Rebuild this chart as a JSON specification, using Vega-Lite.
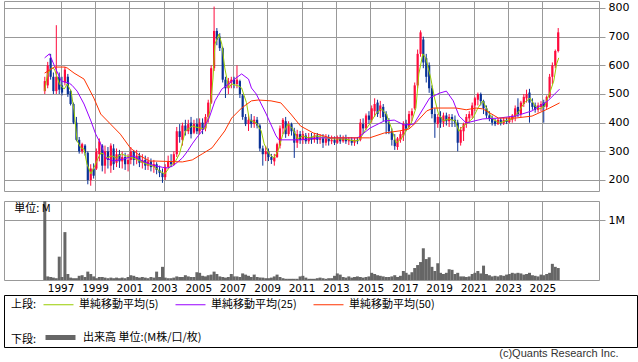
{
"$schema":"https://vega.github.io/schema/vega-lite/v6.json",
"padding":{"left":3,"top":0,"right":0,"bottom":0},
"background":"white",
"title":{"text":"(c)Quants Research Inc.","orient":"bottom","anchor":"end","font":"Liberation Sans","fontSize":11,"fontWeight":"normal","color":"#333333","offset":0,"dx":-19},
"datasets":{
"candles":[
{"year":1996.08,"open":510,"high":560,"low":500,"close":545,"volume":1.5},
{"year":1996.25,"open":530,"high":612,"low":520,"close":600,"volume":0.06},
{"year":1996.42,"open":625,"high":640,"low":550,"close":560,"volume":0.05},
{"year":1996.58,"open":560,"high":575,"low":500,"close":510,"volume":0.04},
{"year":1996.75,"open":510,"high":740,"low":500,"close":560,"volume":0.03},
{"year":1996.92,"open":560,"high":575,"low":500,"close":515,"volume":0.39},
{"year":1997.08,"open":530,"high":560,"low":495,"close":505,"volume":0.05},
{"year":1997.25,"open":540,"high":595,"low":530,"close":585,"volume":0.8},
{"year":1997.42,"open":560,"high":570,"low":490,"close":500,"volume":0.1},
{"year":1997.58,"open":510,"high":515,"low":460,"close":465,"volume":0.04},
{"year":1997.75,"open":465,"high":470,"low":395,"close":400,"volume":0.03},
{"year":1997.92,"open":400,"high":420,"low":335,"close":340,"volume":0.03},
{"year":1998.08,"open":340,"high":350,"low":292,"close":300,"volume":0.07},
{"year":1998.25,"open":300,"high":330,"low":292,"close":325,"volume":0.08},
{"year":1998.42,"open":320,"high":325,"low":285,"close":295,"volume":0.05},
{"year":1998.58,"open":295,"high":300,"low":185,"close":200,"volume":0.14},
{"year":1998.75,"open":200,"high":255,"low":180,"close":240,"volume":0.1},
{"year":1998.92,"open":240,"high":258,"low":205,"close":215,"volume":0.06},
{"year":1999.08,"open":240,"high":310,"low":235,"close":300,"volume":0.03},
{"year":1999.25,"open":290,"high":345,"low":265,"close":335,"volume":0.05},
{"year":1999.42,"open":320,"high":325,"low":230,"close":250,"volume":0.05},
{"year":1999.58,"open":250,"high":320,"low":222,"close":300,"volume":0.04},
{"year":1999.75,"open":300,"high":315,"low":240,"close":270,"volume":0.03},
{"year":1999.92,"open":250,"high":328,"low":225,"close":320,"volume":0.04},
{"year":2000.08,"open":310,"high":325,"low":235,"close":255,"volume":0.03},
{"year":2000.25,"open":260,"high":310,"low":245,"close":290,"volume":0.04},
{"year":2000.42,"open":290,"high":305,"low":242,"close":265,"volume":0.03},
{"year":2000.58,"open":265,"high":300,"low":240,"close":280,"volume":0.04},
{"year":2000.75,"open":280,"high":295,"low":235,"close":255,"volume":0.03},
{"year":2000.92,"open":255,"high":290,"low":230,"close":270,"volume":0.05},
{"year":2001.08,"open":270,"high":315,"low":255,"close":300,"volume":0.08},
{"year":2001.25,"open":300,"high":305,"low":250,"close":270,"volume":0.07},
{"year":2001.42,"open":270,"high":305,"low":255,"close":285,"volume":0.05},
{"year":2001.58,"open":285,"high":295,"low":245,"close":260,"volume":0.04},
{"year":2001.75,"open":260,"high":290,"low":240,"close":270,"volume":0.05},
{"year":2001.92,"open":270,"high":285,"low":235,"close":250,"volume":0.04},
{"year":2002.08,"open":250,"high":280,"low":235,"close":265,"volume":0.03},
{"year":2002.25,"open":265,"high":275,"low":230,"close":245,"volume":0.05},
{"year":2002.42,"open":245,"high":270,"low":225,"close":255,"volume":0.04},
{"year":2002.58,"open":255,"high":262,"low":220,"close":235,"volume":0.14},
{"year":2002.75,"open":235,"high":250,"low":210,"close":225,"volume":0.05},
{"year":2002.92,"open":225,"high":240,"low":190,"close":210,"volume":0.22},
{"year":2003.08,"open":210,"high":255,"low":200,"close":245,"volume":0.04},
{"year":2003.25,"open":245,"high":285,"low":240,"close":265,"volume":0.03},
{"year":2003.42,"open":265,"high":290,"low":245,"close":255,"volume":0.03},
{"year":2003.58,"open":255,"high":300,"low":250,"close":290,"volume":0.04},
{"year":2003.75,"open":290,"high":385,"low":280,"close":370,"volume":0.06},
{"year":2003.92,"open":370,"high":395,"low":330,"close":350,"volume":0.05},
{"year":2004.08,"open":340,"high":400,"low":320,"close":390,"volume":0.05},
{"year":2004.25,"open":390,"high":410,"low":355,"close":370,"volume":0.08},
{"year":2004.42,"open":370,"high":410,"low":360,"close":395,"volume":0.06},
{"year":2004.58,"open":400,"high":420,"low":345,"close":360,"volume":0.05},
{"year":2004.75,"open":365,"high":410,"low":360,"close":395,"volume":0.05},
{"year":2004.92,"open":395,"high":415,"low":360,"close":370,"volume":0.13},
{"year":2005.08,"open":370,"high":415,"low":360,"close":400,"volume":0.12},
{"year":2005.25,"open":400,"high":415,"low":360,"close":375,"volume":0.07},
{"year":2005.42,"open":380,"high":430,"low":370,"close":420,"volume":0.06},
{"year":2005.58,"open":420,"high":480,"low":400,"close":470,"volume":0.08},
{"year":2005.75,"open":470,"high":600,"low":465,"close":590,"volume":0.09},
{"year":2005.92,"open":590,"high":805,"low":580,"close":720,"volume":0.14},
{"year":2006.08,"open":720,"high":730,"low":670,"close":690,"volume":0.1},
{"year":2006.25,"open":700,"high":712,"low":650,"close":660,"volume":0.06},
{"year":2006.42,"open":660,"high":665,"low":540,"close":550,"volume":0.05},
{"year":2006.58,"open":550,"high":560,"low":486,"close":520,"volume":0.04},
{"year":2006.75,"open":520,"high":556,"low":500,"close":545,"volume":0.05},
{"year":2006.92,"open":540,"high":560,"low":520,"close":550,"volume":0.1},
{"year":2007.08,"open":550,"high":560,"low":520,"close":535,"volume":0.06},
{"year":2007.25,"open":535,"high":600,"low":520,"close":550,"volume":0.06},
{"year":2007.42,"open":545,"high":550,"low":486,"close":500,"volume":0.05},
{"year":2007.58,"open":495,"high":500,"low":410,"close":420,"volume":0.11},
{"year":2007.75,"open":420,"high":430,"low":388,"close":395,"volume":0.09},
{"year":2007.92,"open":395,"high":430,"low":371,"close":410,"volume":0.07},
{"year":2008.08,"open":410,"high":430,"low":382,"close":395,"volume":0.05},
{"year":2008.25,"open":395,"high":423,"low":382,"close":410,"volume":0.09},
{"year":2008.42,"open":410,"high":420,"low":380,"close":390,"volume":0.05},
{"year":2008.58,"open":390,"high":395,"low":300,"close":310,"volume":0.04},
{"year":2008.75,"open":310,"high":320,"low":250,"close":290,"volume":0.04},
{"year":2008.92,"open":290,"high":319,"low":266,"close":300,"volume":0.03},
{"year":2009.08,"open":300,"high":310,"low":266,"close":280,"volume":0.03},
{"year":2009.25,"open":280,"high":291,"low":256,"close":270,"volume":0.04},
{"year":2009.42,"open":265,"high":291,"low":250,"close":280,"volume":0.06},
{"year":2009.58,"open":280,"high":330,"low":277,"close":325,"volume":0.09},
{"year":2009.75,"open":320,"high":390,"low":310,"close":380,"volume":0.05},
{"year":2009.92,"open":380,"high":416,"low":360,"close":410,"volume":0.03},
{"year":2010.08,"open":405,"high":420,"low":347,"close":360,"volume":0.02},
{"year":2010.25,"open":360,"high":405,"low":353,"close":395,"volume":0.02},
{"year":2010.42,"open":395,"high":400,"low":355,"close":370,"volume":0.02},
{"year":2010.58,"open":370,"high":382,"low":277,"close":330,"volume":0.02},
{"year":2010.75,"open":330,"high":375,"low":312,"close":360,"volume":0.02},
{"year":2010.92,"open":360,"high":371,"low":326,"close":340,"volume":0.06},
{"year":2011.08,"open":340,"high":371,"low":326,"close":360,"volume":0.07},
{"year":2011.25,"open":355,"high":364,"low":326,"close":335,"volume":0.04},
{"year":2011.42,"open":335,"high":364,"low":326,"close":350,"volume":0.02},
{"year":2011.58,"open":350,"high":364,"low":326,"close":340,"volume":0.02},
{"year":2011.75,"open":340,"high":364,"low":330,"close":355,"volume":0.02},
{"year":2011.92,"open":355,"high":364,"low":326,"close":340,"volume":0.03},
{"year":2012.08,"open":340,"high":360,"low":326,"close":345,"volume":0.04},
{"year":2012.25,"open":345,"high":360,"low":312,"close":330,"volume":0.03},
{"year":2012.42,"open":330,"high":360,"low":320,"close":345,"volume":0.02},
{"year":2012.58,"open":345,"high":358,"low":320,"close":335,"volume":0.03},
{"year":2012.75,"open":335,"high":355,"low":325,"close":340,"volume":0.03},
{"year":2012.92,"open":340,"high":352,"low":322,"close":330,"volume":0.07},
{"year":2013.08,"open":330,"high":355,"low":326,"close":345,"volume":0.11},
{"year":2013.25,"open":345,"high":358,"low":326,"close":335,"volume":0.09},
{"year":2013.42,"open":335,"high":355,"low":330,"close":345,"volume":0.05},
{"year":2013.58,"open":345,"high":358,"low":326,"close":335,"volume":0.04},
{"year":2013.75,"open":335,"high":350,"low":322,"close":340,"volume":0.06},
{"year":2013.92,"open":340,"high":350,"low":320,"close":330,"volume":0.04},
{"year":2014.08,"open":330,"high":347,"low":319,"close":340,"volume":0.05},
{"year":2014.25,"open":340,"high":350,"low":325,"close":335,"volume":0.06},
{"year":2014.42,"open":340,"high":413,"low":335,"close":400,"volume":0.05},
{"year":2014.58,"open":395,"high":415,"low":360,"close":380,"volume":0.04},
{"year":2014.75,"open":380,"high":432,"low":375,"close":425,"volume":0.05},
{"year":2014.92,"open":425,"high":440,"low":395,"close":410,"volume":0.06},
{"year":2015.08,"open":410,"high":460,"low":400,"close":450,"volume":0.12},
{"year":2015.25,"open":440,"high":485,"low":420,"close":465,"volume":0.1},
{"year":2015.42,"open":470,"high":480,"low":420,"close":430,"volume":0.08},
{"year":2015.58,"open":440,"high":476,"low":416,"close":460,"volume":0.07},
{"year":2015.75,"open":455,"high":465,"low":405,"close":420,"volume":0.06},
{"year":2015.92,"open":430,"high":440,"low":360,"close":400,"volume":0.05},
{"year":2016.08,"open":400,"high":416,"low":360,"close":370,"volume":0.05},
{"year":2016.25,"open":370,"high":380,"low":320,"close":340,"volume":0.06},
{"year":2016.42,"open":340,"high":360,"low":305,"close":318,"volume":0.08},
{"year":2016.58,"open":315,"high":350,"low":305,"close":345,"volume":0.05},
{"year":2016.75,"open":340,"high":370,"low":330,"close":360,"volume":0.07},
{"year":2016.92,"open":355,"high":405,"low":336,"close":395,"volume":0.15},
{"year":2017.08,"open":395,"high":410,"low":370,"close":380,"volume":0.12},
{"year":2017.25,"open":385,"high":441,"low":380,"close":430,"volume":0.09},
{"year":2017.42,"open":425,"high":450,"low":405,"close":440,"volume":0.13},
{"year":2017.58,"open":450,"high":540,"low":445,"close":530,"volume":0.2},
{"year":2017.75,"open":530,"high":655,"low":520,"close":640,"volume":0.25},
{"year":2017.92,"open":640,"high":722,"low":630,"close":715,"volume":0.3},
{"year":2018.08,"open":690,"high":700,"low":590,"close":610,"volume":0.53},
{"year":2018.25,"open":625,"high":640,"low":540,"close":560,"volume":0.35},
{"year":2018.42,"open":600,"high":610,"low":504,"close":520,"volume":0.38},
{"year":2018.58,"open":520,"high":530,"low":415,"close":430,"volume":0.22},
{"year":2018.75,"open":430,"high":450,"low":347,"close":400,"volume":0.15},
{"year":2018.92,"open":395,"high":430,"low":382,"close":420,"volume":0.28},
{"year":2019.08,"open":420,"high":440,"low":382,"close":400,"volume":0.12},
{"year":2019.25,"open":400,"high":435,"low":385,"close":425,"volume":0.1},
{"year":2019.42,"open":425,"high":435,"low":390,"close":405,"volume":0.12},
{"year":2019.58,"open":405,"high":430,"low":385,"close":420,"volume":0.18},
{"year":2019.75,"open":420,"high":430,"low":385,"close":410,"volume":0.17},
{"year":2019.92,"open":410,"high":425,"low":385,"close":400,"volume":0.1},
{"year":2020.08,"open":400,"high":410,"low":300,"close":330,"volume":0.12},
{"year":2020.25,"open":330,"high":385,"low":320,"close":375,"volume":0.06},
{"year":2020.42,"open":370,"high":400,"low":336,"close":395,"volume":0.06},
{"year":2020.58,"open":395,"high":430,"low":382,"close":420,"volume":0.05},
{"year":2020.75,"open":415,"high":440,"low":400,"close":430,"volume":0.06},
{"year":2020.92,"open":425,"high":470,"low":415,"close":460,"volume":0.1},
{"year":2021.08,"open":460,"high":490,"low":440,"close":485,"volume":0.12},
{"year":2021.25,"open":480,"high":505,"low":460,"close":500,"volume":0.15},
{"year":2021.42,"open":500,"high":505,"low":460,"close":475,"volume":0.11},
{"year":2021.58,"open":475,"high":480,"low":430,"close":450,"volume":0.24},
{"year":2021.75,"open":450,"high":460,"low":415,"close":425,"volume":0.1},
{"year":2021.92,"open":425,"high":440,"low":405,"close":415,"volume":0.08},
{"year":2022.08,"open":415,"high":425,"low":390,"close":400,"volume":0.06},
{"year":2022.25,"open":405,"high":415,"low":388,"close":395,"volume":0.07},
{"year":2022.42,"open":395,"high":416,"low":392,"close":410,"volume":0.06},
{"year":2022.58,"open":410,"high":416,"low":390,"close":398,"volume":0.08},
{"year":2022.75,"open":398,"high":418,"low":392,"close":410,"volume":0.07},
{"year":2022.92,"open":410,"high":418,"low":395,"close":402,"volume":0.09},
{"year":2023.08,"open":402,"high":422,"low":398,"close":415,"volume":0.1},
{"year":2023.25,"open":410,"high":430,"low":400,"close":425,"volume":0.12},
{"year":2023.42,"open":420,"high":460,"low":405,"close":450,"volume":0.11},
{"year":2023.58,"open":455,"high":485,"low":420,"close":430,"volume":0.12},
{"year":2023.75,"open":430,"high":476,"low":420,"close":470,"volume":0.11},
{"year":2023.92,"open":465,"high":500,"low":455,"close":490,"volume":0.09},
{"year":2024.08,"open":485,"high":515,"low":470,"close":500,"volume":0.1},
{"year":2024.25,"open":505,"high":518,"low":400,"close":470,"volume":0.12},
{"year":2024.42,"open":470,"high":485,"low":445,"close":455,"volume":0.08},
{"year":2024.58,"open":460,"high":470,"low":435,"close":445,"volume":0.07},
{"year":2024.75,"open":445,"high":470,"low":435,"close":460,"volume":0.06},
{"year":2024.92,"open":455,"high":475,"low":440,"close":465,"volume":0.09},
{"year":2025.08,"open":470,"high":480,"low":400,"close":455,"volume":0.08},
{"year":2025.25,"open":455,"high":495,"low":448,"close":490,"volume":0.1},
{"year":2025.42,"open":490,"high":570,"low":485,"close":560,"volume":0.12},
{"year":2025.58,"open":560,"high":610,"low":535,"close":600,"volume":0.27},
{"year":2025.75,"open":600,"high":655,"low":590,"close":650,"volume":0.22},
{"year":2025.92,"open":650,"high":730,"low":645,"close":715,"volume":0.2}
],
"ma":[
{"year":1996.07,"series":"5","value":510},{"year":1996.24,"series":"5","value":570},{"year":1996.47,"series":"5","value":591},{"year":1996.64,"series":"5","value":587},{"year":1996.93,"series":"5","value":535},{"year":1997.21,"series":"5","value":517},{"year":1997.38,"series":"5","value":535},{"year":1997.61,"series":"5","value":510},{"year":1997.78,"series":"5","value":441},{"year":1997.96,"series":"5","value":336},{"year":1998.18,"series":"5","value":312},{"year":1998.36,"series":"5","value":308},{"year":1998.53,"series":"5","value":256},{"year":1998.76,"series":"5","value":221},{"year":1998.93,"series":"5","value":242},{"year":1999.10,"series":"5","value":266},{"year":1999.33,"series":"5","value":294},{"year":1999.50,"series":"5","value":291},{"year":1999.67,"series":"5","value":277},{"year":1999.96,"series":"5","value":284},{"year":2000.25,"series":"5","value":277},{"year":2000.53,"series":"5","value":291},{"year":2000.82,"series":"5","value":284},{"year":2001.22,"series":"5","value":277},{"year":2001.62,"series":"5","value":266},{"year":2001.96,"series":"5","value":256},{"year":2002.36,"series":"5","value":249},{"year":2002.76,"series":"5","value":231},{"year":2003.05,"series":"5","value":221},{"year":2003.34,"series":"5","value":245},{"year":2003.68,"series":"5","value":266},{"year":2003.91,"series":"5","value":291},{"year":2004.25,"series":"5","value":371},{"year":2004.65,"series":"5","value":388},{"year":2005.05,"series":"5","value":382},{"year":2005.40,"series":"5","value":378},{"year":2005.68,"series":"5","value":441},{"year":2005.86,"series":"5","value":556},{"year":2005.97,"series":"5","value":674},{"year":2006.20,"series":"5","value":709},{"year":2006.37,"series":"5","value":674},{"year":2006.54,"series":"5","value":591},{"year":2006.77,"series":"5","value":521},{"year":2006.94,"series":"5","value":535},{"year":2007.34,"series":"5","value":528},{"year":2007.52,"series":"5","value":521},{"year":2007.80,"series":"5","value":470},{"year":2007.97,"series":"5","value":410},{"year":2008.37,"series":"5","value":399},{"year":2008.66,"series":"5","value":371},{"year":2008.83,"series":"5","value":326},{"year":2009.12,"series":"5","value":291},{"year":2009.40,"series":"5","value":277},{"year":2009.63,"series":"5","value":301},{"year":2009.92,"series":"5","value":360},{"year":2010.21,"series":"5","value":395},{"year":2010.49,"series":"5","value":378},{"year":2010.78,"series":"5","value":343},{"year":2011.06,"series":"5","value":354},{"year":2011.41,"series":"5","value":347},{"year":2011.81,"series":"5","value":354},{"year":2012.38,"series":"5","value":347},{"year":2012.95,"series":"5","value":343},{"year":2013.53,"series":"5","value":343},{"year":2014.10,"series":"5","value":336},{"year":2014.38,"series":"5","value":340},{"year":2014.67,"series":"5","value":371},{"year":2014.96,"series":"5","value":395},{"year":2015.36,"series":"5","value":434},{"year":2015.64,"series":"5","value":448},{"year":2015.93,"series":"5","value":430},{"year":2016.22,"series":"5","value":382},{"year":2016.50,"series":"5","value":329},{"year":2016.79,"series":"5","value":343},{"year":2017.07,"series":"5","value":371},{"year":2017.36,"series":"5","value":395},{"year":2017.65,"series":"5","value":451},{"year":2017.82,"series":"5","value":570},{"year":2018.05,"series":"5","value":640},{"year":2018.22,"series":"5","value":626},{"year":2018.51,"series":"5","value":556},{"year":2018.73,"series":"5","value":486},{"year":2018.96,"series":"5","value":430},{"year":2019.25,"series":"5","value":406},{"year":2019.54,"series":"5","value":413},{"year":2019.94,"series":"5","value":406},{"year":2020.15,"series":"5","value":370},{"year":2020.28,"series":"5","value":382},{"year":2020.57,"series":"5","value":395},{"year":2020.97,"series":"5","value":416},{"year":2021.25,"series":"5","value":451},{"year":2021.54,"series":"5","value":476},{"year":2021.83,"series":"5","value":441},{"year":2022.11,"series":"5","value":413},{"year":2022.51,"series":"5","value":399},{"year":2022.86,"series":"5","value":406},{"year":2023.26,"series":"5","value":413},{"year":2023.66,"series":"5","value":441},{"year":2023.94,"series":"5","value":469},{"year":2024.29,"series":"5","value":486},{"year":2024.57,"series":"5","value":458},{"year":2024.86,"series":"5","value":448},{"year":2025.14,"series":"5","value":458},{"year":2025.43,"series":"5","value":504},{"year":2025.66,"series":"5","value":545},{"year":2025.83,"series":"5","value":605},{"year":2025.95,"series":"5","value":626},
{"year":1996.07,"series":"25","value":626},{"year":1996.35,"series":"25","value":640},{"year":1996.64,"series":"25","value":598},{"year":1997.04,"series":"25","value":545},{"year":1997.50,"series":"25","value":538},{"year":1997.67,"series":"25","value":530},{"year":1997.96,"series":"25","value":510},{"year":1998.36,"series":"25","value":465},{"year":1998.76,"series":"25","value":406},{"year":1999.04,"series":"25","value":360},{"year":1999.33,"series":"25","value":326},{"year":1999.62,"series":"25","value":277},{"year":2000.07,"series":"25","value":266},{"year":2000.65,"series":"25","value":273},{"year":2001.22,"series":"25","value":284},{"year":2001.79,"series":"25","value":265},{"year":2002.36,"series":"25","value":252},{"year":2002.94,"series":"25","value":244},{"year":2003.22,"series":"25","value":242},{"year":2003.51,"series":"25","value":249},{"year":2003.79,"series":"25","value":262},{"year":2004.08,"series":"25","value":277},{"year":2004.37,"series":"25","value":300},{"year":2004.65,"series":"25","value":326},{"year":2004.94,"series":"25","value":350},{"year":2005.23,"series":"25","value":371},{"year":2005.63,"series":"25","value":416},{"year":2005.97,"series":"25","value":476},{"year":2006.37,"series":"25","value":517},{"year":2006.77,"series":"25","value":535},{"year":2007.11,"series":"25","value":552},{"year":2007.52,"series":"25","value":570},{"year":2007.92,"series":"25","value":552},{"year":2008.09,"series":"25","value":521},{"year":2008.37,"series":"25","value":500},{"year":2008.95,"series":"25","value":430},{"year":2009.52,"series":"25","value":354},{"year":2009.69,"series":"25","value":340},{"year":2010.95,"series":"25","value":340},{"year":2012.10,"series":"25","value":347},{"year":2014.27,"series":"25","value":347},{"year":2015.01,"series":"25","value":382},{"year":2015.81,"series":"25","value":406},{"year":2016.39,"series":"25","value":409},{"year":2016.96,"series":"25","value":392},{"year":2017.53,"series":"25","value":395},{"year":2017.88,"series":"25","value":430},{"year":2018.45,"series":"25","value":486},{"year":2019.02,"series":"25","value":503},{"year":2019.42,"series":"25","value":510},{"year":2019.82,"series":"25","value":476},{"year":2020.16,"series":"25","value":423},{"year":2020.57,"series":"25","value":399},{"year":2021.54,"series":"25","value":413},{"year":2022.45,"series":"25","value":416},{"year":2023.43,"series":"25","value":423},{"year":2024.40,"series":"25","value":441},{"year":2025.32,"series":"25","value":476},{"year":2026.00,"series":"25","value":517},
{"year":1996.07,"series":"50","value":573},{"year":1996.64,"series":"50","value":594},{"year":1997.21,"series":"50","value":594},{"year":1997.38,"series":"50","value":591},{"year":1997.78,"series":"50","value":573},{"year":1998.36,"series":"50","value":552},{"year":1998.93,"series":"50","value":486},{"year":1999.33,"series":"50","value":430},{"year":1999.90,"series":"50","value":395},{"year":2000.47,"series":"50","value":360},{"year":2001.05,"series":"50","value":312},{"year":2001.62,"series":"50","value":284},{"year":2002.19,"series":"50","value":266},{"year":2002.54,"series":"50","value":266},{"year":2004.08,"series":"50","value":263},{"year":2004.65,"series":"50","value":270},{"year":2005.23,"series":"50","value":291},{"year":2005.80,"series":"50","value":312},{"year":2006.54,"series":"50","value":371},{"year":2006.94,"series":"50","value":416},{"year":2007.52,"series":"50","value":451},{"year":2008.09,"series":"50","value":476},{"year":2008.49,"series":"50","value":479},{"year":2009.23,"series":"50","value":476},{"year":2009.80,"series":"50","value":469},{"year":2010.38,"series":"50","value":430},{"year":2010.95,"series":"50","value":388},{"year":2011.69,"series":"50","value":364},{"year":2012.67,"series":"50","value":347},{"year":2013.81,"series":"50","value":347},{"year":2014.96,"series":"50","value":347},{"year":2015.81,"series":"50","value":364},{"year":2016.67,"series":"50","value":371},{"year":2017.25,"series":"50","value":378},{"year":2017.65,"series":"50","value":400},{"year":2018.28,"series":"50","value":441},{"year":2018.68,"series":"50","value":451},{"year":2019.99,"series":"50","value":451},{"year":2020.57,"series":"50","value":445},{"year":2021.14,"series":"50","value":451},{"year":2021.54,"series":"50","value":448},{"year":2021.94,"series":"50","value":434},{"year":2022.45,"series":"50","value":416},{"year":2023.43,"series":"50","value":416},{"year":2024.40,"series":"50","value":423},{"year":2025.32,"series":"50","value":448},{"year":2026.00,"series":"50","value":469}
]
},
"config":{
"view":{"stroke":"#999999"},
"font":"DejaVu Sans",
"axis":{"gridColor":"#999999","gridOpacity":1,"gridWidth":1,"domain":false,"tickColor":"#999999","labelColor":"#000000","labelFont":"DejaVu Sans","title":null,"labelOverlap":false},
"legend":{"labelFont":"Noto Sans CJK JP","labelFontSize":11,"labelColor":"#000000","titleFont":"Noto Sans CJK JP","titleFontSize":11,"titleFontWeight":"normal","titleColor":"#000000","symbolType":"stroke","symbolSize":900,"labelOffset":5,"columnPadding":14,"titlePadding":6,"padding":0,"direction":"horizontal","orient":"none","titleOrient":"left","titleAnchor":"middle","titleBaseline":"top"}
},
"spacing":0,
"vconcat":[
{
"spacing":8,
"vconcat":[
{
"width":595,"height":190,
"data":{"name":"candles"},
"layer":[
{"mark":{"type":"rule","strokeWidth":1},
 "encoding":{
  "x":{"field":"year","type":"quantitative","scale":{"domain":[1994,2028],"nice":false,"zero":false},"axis":{"values":[1997,1999,2001,2003,2005,2007,2009,2011,2013,2015,2017,2019,2021,2023,2025],"labels":false,"ticks":false,"grid":true}},
  "y":{"field":"low","type":"quantitative","scale":{"domain":[161.6,824.4],"nice":false,"zero":false},"axis":{"orient":"right","values":[200,300,400,500,600,700,800],"tickSize":6,"labelFontSize":11,"labelPadding":3,"grid":true}},
  "y2":{"field":"high"},
  "color":{"condition":{"test":"datum.close >= datum.open","value":"#ff0a3c"},"value":"#0a3296"}
 }},
{"mark":{"type":"bar","size":2.2},
 "encoding":{
  "x":{"field":"year","type":"quantitative","axis":{"values":[1997,1999,2001,2003,2005,2007,2009,2011,2013,2015,2017,2019,2021,2023,2025],"labels":false,"ticks":false,"grid":true}},
  "y":{"field":"open","type":"quantitative","axis":{"orient":"right","values":[200,300,400,500,600,700,800],"tickSize":6,"labelFontSize":11,"labelPadding":3,"grid":true}},
  "y2":{"field":"close"},
  "color":{"condition":{"test":"datum.close >= datum.open","value":"#ff0a3c"},"value":"#0a3296"}
 }},
{"data":{"name":"ma"},
 "mark":{"type":"line","strokeWidth":1},
 "encoding":{
  "x":{"field":"year","type":"quantitative","axis":{"values":[1997,1999,2001,2003,2005,2007,2009,2011,2013,2015,2017,2019,2021,2023,2025],"labels":false,"ticks":false,"grid":true}},
  "y":{"field":"value","type":"quantitative","axis":{"orient":"right","values":[200,300,400,500,600,700,800],"tickSize":6,"labelFontSize":11,"labelPadding":3,"grid":true}},
  "stroke":{"field":"series","type":"nominal","scale":{"domain":["5","25","50"],"range":["#99cc00","#9900ff","#ff3300"]},
   "legend":{"title":"上段:","legendX":7,"legendY":288,"symbolStrokeWidth":1,"labelExpr":"'単純移動平均(' + datum.label + ')'"}}
 }}
]
},
{
"width":595,"height":79,
"layer":[
{"data":{"name":"candles"},
 "mark":{"type":"bar","size":3,"clip":true},
 "encoding":{
  "x":{"field":"year","type":"quantitative","scale":{"domain":[1994,2028],"nice":false,"zero":false},"axis":{"values":[1997,1999,2001,2003,2005,2007,2009,2011,2013,2015,2017,2019,2021,2023,2025],"format":"d","ticks":false,"labelFontSize":10.5,"labelPadding":3,"grid":true,"labelFlush":false}},
  "y":{"field":"volume","type":"quantitative","scale":{"domain":[0,1.32],"nice":false},"axis":{"orient":"right","values":[1],"labelExpr":"'1M'","tickSize":6,"labelFontSize":11,"labelPadding":3,"grid":true}},
  "fill":{"datum":"出来高 単位:(M株/口/枚)","scale":{"range":["#666666"]},
   "legend":{"title":"下段:","legendX":7,"legendY":319,"symbolStrokeWidth":5,"symbolStrokeColor":"#666666"}}
 }},
{"data":{"values":[{}]},
 "mark":{"type":"text","align":"left","baseline":"middle","font":"Noto Sans CJK JP","fontSize":11,"color":"#000000"},
 "encoding":{
  "x":{"datum":1994.3,"type":"quantitative"},
  "y":{"datum":1.18,"type":"quantitative"},
  "text":{"value":"単位: M"}
 }}
]
}
]
},
{
"width":633,"height":52,
"view":{"stroke":"#000000"},
"data":{"values":[]},
"mark":"point"
}
]
}
